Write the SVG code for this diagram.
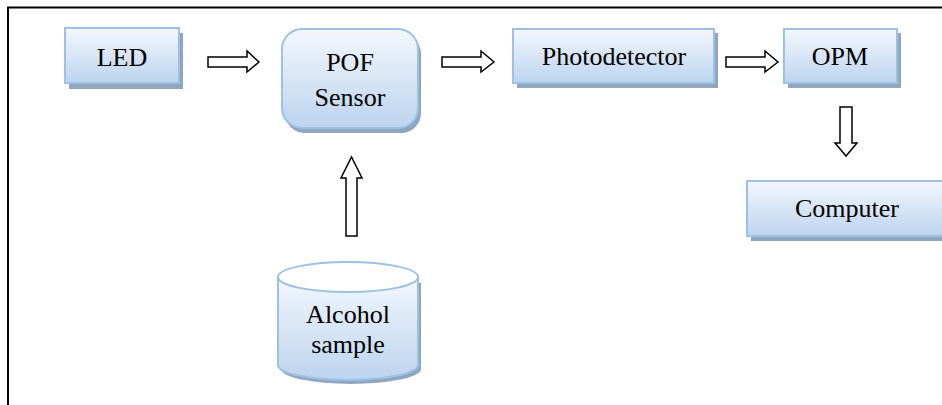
<svg xmlns="http://www.w3.org/2000/svg" width="942" height="405" viewBox="0 0 942 405">
<defs>
<linearGradient id="g" x1="0" y1="0" x2="0" y2="1">
<stop offset="0" stop-color="#f3f7fc"/>
<stop offset="1" stop-color="#bcd4ee"/>
</linearGradient>
</defs>
<rect width="942" height="405" fill="#fff"/>
<path d="M8 405 V7.5 H942" fill="none" stroke="#000" stroke-width="2"/>
<g id="led">
<rect fill="#8fa6c0" x="69" y="33" width="114" height="56"/>
<rect fill="url(#g)" stroke="#9dc0e3" stroke-width="2" x="65" y="28" width="114" height="55"/>
<text x="122" y="66" font-family="Liberation Serif" font-size="26" text-anchor="middle">LED</text>
</g>
<g id="pof">
<rect fill="#8fa6c0" x="285" y="34" width="136" height="99" rx="20"/>
<rect fill="url(#g)" stroke="#9dc0e3" stroke-width="2" x="282" y="29" width="136" height="99" rx="20"/>
<text x="350" y="71" font-family="Liberation Serif" font-size="26" text-anchor="middle">POF</text>
<text x="350" y="106" font-family="Liberation Serif" font-size="26" text-anchor="middle">Sensor</text>
</g>
<g id="photodetector">
<rect fill="#8fa6c0" x="517" y="33" width="201" height="55"/>
<rect fill="url(#g)" stroke="#9dc0e3" stroke-width="2" x="513" y="29" width="201" height="54"/>
<text x="614" y="65" font-family="Liberation Serif" font-size="26" text-anchor="middle">Photodetector</text>
</g>
<g id="opm">
<rect fill="#8fa6c0" x="788" y="33" width="113" height="55"/>
<rect fill="url(#g)" stroke="#9dc0e3" stroke-width="2" x="784" y="29" width="113" height="54"/>
<text x="840" y="65" font-family="Liberation Serif" font-size="26" text-anchor="middle">OPM</text>
</g>
<g id="computer">
<rect fill="#8fa6c0" x="751" y="186" width="200" height="55"/>
<rect fill="url(#g)" stroke="#9dc0e3" stroke-width="2" x="747" y="181" width="200" height="55"/>
<text x="847" y="217" font-family="Liberation Serif" font-size="26" text-anchor="middle">Computer</text>
</g>
<g id="alcohol">
<path fill="#8fa6c0" d="M281 283 V369 A70 15 0 0 0 421 369 V283 Z"/>
<path fill="url(#g)" stroke="#9dc0e3" stroke-width="2" d="M278 277 V365 A70 15 0 0 0 418 365 V277"/>
<ellipse cx="348" cy="277" rx="70" ry="15" fill="#fff" stroke="#9dc0e3" stroke-width="2"/>
<text x="348" y="323" font-family="Liberation Serif" font-size="26" text-anchor="middle">Alcohol</text>
<text x="348" y="353" font-family="Liberation Serif" font-size="26" text-anchor="middle">sample</text>
</g>
<g id="connectors" fill="#fff" stroke="#000" stroke-width="1.5">
<polygon points="208,57 247,57 247,51 259,62 247,72 247,67 208,67"/>
<polygon points="442,57 481,57 481,51 494,62 481,72 481,67 442,67"/>
<polygon points="726,57 765,57 765,51 778,62 765,72 765,67 726,67"/>
<polygon points="840,107 852,107 852,143 857,143 846,156 835,143 840,143"/>
<polygon points="346,236 357,236 357,178 362,178 351.5,157 341,178 346,178"/>
</g>
</svg>
